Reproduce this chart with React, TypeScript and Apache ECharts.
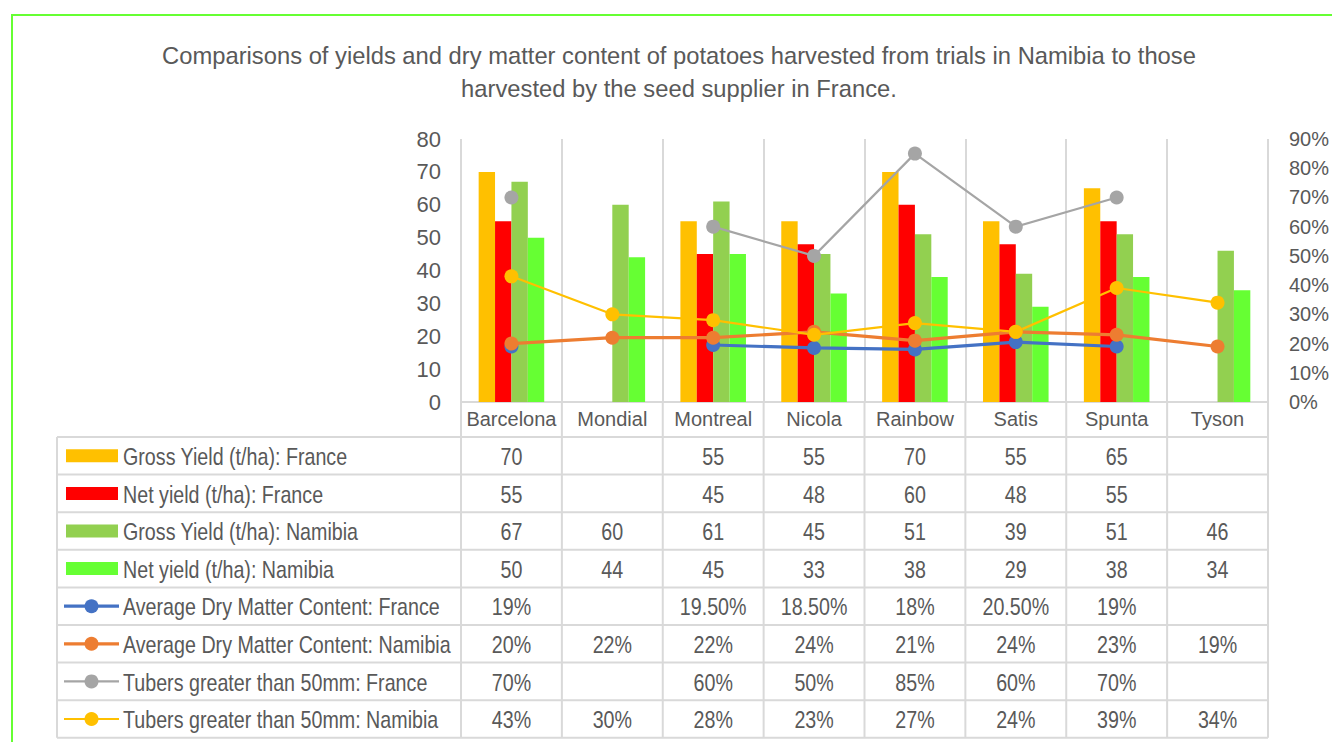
import React, { useEffect, useRef } from "react";
import * as echarts from "echarts";

const categories = ["Barcelona", "Mondial", "Montreal", "Nicola", "Rainbow", "Satis", "Spunta", "Tyson"];
const grossFrance = [70, null, 55, 55, 70, 55, 65, null];
const netFrance = [55, null, 45, 48, 60, 48, 55, null];
const grossNamibia = [67, 60, 61, 45, 51, 39, 51, 46];
const netNamibia = [50, 44, 45, 33, 38, 29, 38, 34];
const dmFrance = [0.19, null, 0.195, 0.185, 0.18, 0.205, 0.19, null];
const dmNamibia = [0.2, 0.22, 0.22, 0.24, 0.21, 0.24, 0.23, 0.19];
const tubersFrance = [0.7, null, 0.6, 0.5, 0.85, 0.6, 0.7, null];
const tubersNamibia = [0.43, 0.3, 0.28, 0.23, 0.27, 0.24, 0.39, 0.34];

const leftTicks = { min: 0, max: 80, interval: 10 };
const rightTicks = { min: 0, max: 0.9, interval: 0.1 };

const titleText =
  "Comparisons of yields and dry matter content of potatoes harvested from trials in Namibia to those\nharvested by the seed supplier in France.";

const FONT = "'Liberation Sans Narrow', 'Arial Narrow', 'Liberation Sans', Arial, sans-serif";
const TXT = "#595959";
const GRIDC = "#d9d9d9";
const NARROW = 0.82;

type S = { name: string; kind: "bar" | "line"; color: string; data: (number | null)[]; width?: number };
const seriesDefs: S[] = [
  { name: "Gross Yield (t/ha): France", kind: "bar", color: "#FFC000", data: grossFrance },
  { name: "Net yield (t/ha): France", kind: "bar", color: "#FF0000", data: netFrance },
  { name: "Gross Yield (t/ha): Namibia", kind: "bar", color: "#92D050", data: grossNamibia },
  { name: "Net yield (t/ha): Namibia", kind: "bar", color: "#66FF33", data: netNamibia },
  { name: "Average Dry Matter Content: France", kind: "line", color: "#4472C4", data: dmFrance, width: 3.2 },
  { name: "Average Dry Matter Content: Namibia", kind: "line", color: "#ED7D31", data: dmNamibia, width: 3.2 },
  { name: "Tubers greater than 50mm: France", kind: "line", color: "#A5A5A5", data: tubersFrance, width: 2.2 },
  { name: "Tubers greater than 50mm: Namibia", kind: "line", color: "#FFC000", data: tubersNamibia, width: 2.2 },
];

function fmt(v: number | null, kind: "bar" | "line"): string {
  if (v === null || v === undefined) return "";
  if (kind === "bar") return String(v);
  const p = Math.round(v * 1000) / 10;
  return Number.isInteger(p) ? `${p}%` : `${p.toFixed(2)}%`;
}

// layout
const W = 1332, H = 742;
const GL = 461, GR = 1268, GT = 139, GB = 402;
const TABLE_LEFT = 57, TABLE_TOP = 437, ROW_H = 37.6;

export default function App() {
  const ref = useRef<HTMLDivElement>(null);
  useEffect(() => {
    if (!ref.current) return;
    const chart = echarts.init(ref.current, undefined, { renderer: "svg" });
    const colW = (GR - GL) / categories.length;
    const graphics: any[] = [];
    // outer border
    graphics.push({
      type: "rect", shape: { x: 12, y: 15, width: 1340, height: 760 },
      style: { fill: "none", stroke: "#66FF33", lineWidth: 2 }, silent: true,
    });
    // title
    graphics.push({
      type: "text", x: 679, y: 72, scaleX: 0.99,
      style: { text: titleText, align: "center", verticalAlign: "middle", fontSize: 24, lineHeight: 33, fontFamily: FONT, fill: TXT },
    });
    const nRows = seriesDefs.length;
    const tableBottom = TABLE_TOP + nRows * ROW_H;
    // vertical lines of the table
    for (let i = 0; i <= categories.length; i++) {
      const x = GL + i * colW;
      graphics.push({ type: "line", shape: { x1: x, y1: GB, x2: x, y2: tableBottom }, style: { stroke: GRIDC, lineWidth: 2 } });
    }
    graphics.push({ type: "line", shape: { x1: TABLE_LEFT, y1: TABLE_TOP, x2: TABLE_LEFT, y2: tableBottom }, style: { stroke: GRIDC, lineWidth: 2 } });
    for (let r = 0; r <= nRows; r++) {
      const y = TABLE_TOP + r * ROW_H;
      graphics.push({ type: "line", shape: { x1: TABLE_LEFT, y1: y, x2: GR, y2: y }, style: { stroke: GRIDC, lineWidth: 2 } });
    }
    // rows
    seriesDefs.forEach((s, r) => {
      const cy = TABLE_TOP + (r + 0.5) * ROW_H;
      if (s.kind === "bar") {
        graphics.push({ type: "rect", shape: { x: 66, y: cy - 6.5, width: 52, height: 13 }, style: { fill: s.color } });
      } else {
        graphics.push({ type: "line", shape: { x1: 64, y1: cy, x2: 119, y2: cy }, style: { stroke: s.color, lineWidth: s.width } });
        graphics.push({ type: "circle", shape: { cx: 91.5, cy, r: 7 }, style: { fill: s.color } });
      }
      graphics.push({
        type: "text", x: 123, y: cy + 1, scaleX: NARROW,
        style: { text: s.name, align: "left", verticalAlign: "middle", fontSize: 24, fontFamily: FONT, fill: TXT },
      });
      s.data.forEach((v, i) => {
        const t = fmt(v, s.kind);
        if (!t) return;
        graphics.push({
          type: "text", x: GL + (i + 0.5) * colW, y: cy + 1, scaleX: NARROW,
          style: { text: t, align: "center", verticalAlign: "middle", fontSize: 24, fontFamily: FONT, fill: TXT },
        });
      });
    });

    const series: any[] = seriesDefs.map((s) =>
      s.kind === "bar"
        ? {
            name: s.name, type: "bar", data: s.data, yAxisIndex: 0, barGap: "0%", barCategoryGap: "35%",
            itemStyle: { color: s.color }, z: 2,
          }
        : {
            name: s.name, type: "line", data: s.data, yAxisIndex: 1, connectNulls: false, showAllSymbol: true,
            symbol: "circle", symbolSize: 14, lineStyle: { color: s.color, width: s.width }, itemStyle: { color: s.color }, z: 3,
          }
    );

    chart.setOption({
      animation: false,
      backgroundColor: "#ffffff",
      textStyle: { fontFamily: FONT },
      grid: { left: GL, right: W - GR, top: GT, bottom: H - GB, containLabel: false },
      xAxis: {
        type: "category", data: categories, boundaryGap: true,
        axisLine: { show: true, lineStyle: { color: GRIDC, width: 2 } },
        axisTick: { show: false },
        axisLabel: { color: TXT, fontSize: 20, fontFamily: FONT, margin: 7, interval: 0 },
        splitLine: { show: true, interval: 0, lineStyle: { color: GRIDC, width: 2 } },
      },
      yAxis: [
        {
          type: "value", ...leftTicks, position: "left",
          axisLine: { show: false }, axisTick: { show: false }, splitLine: { show: false },
          axisLabel: { color: TXT, fontSize: 22, fontFamily: FONT, margin: 20 },
        },
        {
          type: "value", ...rightTicks, position: "right",
          axisLine: { show: false }, axisTick: { show: false }, splitLine: { show: false },
          axisLabel: { color: TXT, fontSize: 20, fontFamily: FONT, margin: 21, formatter: (v: number) => `${Math.round(v * 100)}%` },
        },
      ],
      series,
      graphic: graphics,
    });
    return () => chart.dispose();
  }, []);
  return <div ref={ref} style={{ position: "fixed", left: 0, top: 0, width: W, height: H }} />;
}
